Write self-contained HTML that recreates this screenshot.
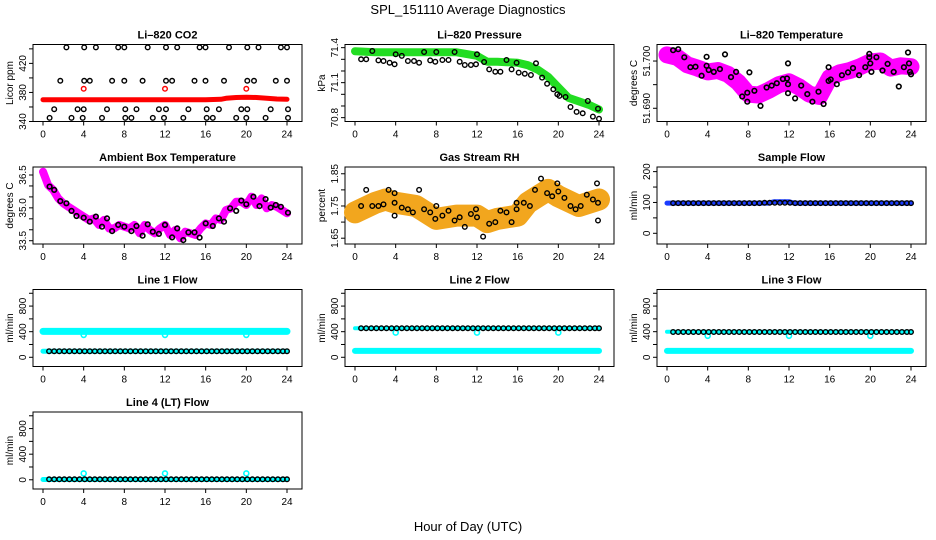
<!DOCTYPE html>
<html><head><meta charset="utf-8"><title>SPL_151110 Average Diagnostics</title>
<style>
html,body{margin:0;padding:0;background:#fff;}
svg{display:block;font-family:"Liberation Sans",Arial,sans-serif;}
</style></head>
<body>
<svg id="chart" width="936" height="540" viewBox="0 0 936 540" xmlns="http://www.w3.org/2000/svg">
<rect x="0" y="0" width="936" height="540" fill="#fff"/>
<text x="468" y="14" text-anchor="middle" font-size="13" fill="#000">SPL_151110  Average Diagnostics</text>
<text x="468" y="531" text-anchor="middle" font-size="13" fill="#000">Hour of Day (UTC)</text>
</svg>
<script>
// ---------- data ----------
const xTicks = [0,4,8,12,16,20,24];
// CO2
const co2BlackHours = [2.3,4.05,5.2,7.4,8.0,10.3,12.1,13.2,15.4,15.98,18.3,20.1,21.2,23.4,24,
  1.7,4.05,4.6,6.8,8.0,9.8,12.1,12.7,14.9,15.98,17.8,20.1,20.75,22.9,24,
  1.1,3.4,4.0,6.3,8.1,9.2,11.4,12.1,14.3,16.1,17.3,19.5,20.1,22.4,24.1,
  0.65,2.8,3.9,5.8,8.1,8.7,10.8,11.9,13.8,16.1,16.7,19,20,21.9,24.1];
const co2BlackVals = [442,442,442,442,442,442,442,442,442,442,442,442,442,442,442,
  396,396,396,396,396,396,396,396,396,396,396,396,396,396,396,
  357,357,357,357,357,357,357,357,357,357,357,357,357,357,357,
  345,345,345,345,345,345,345,345,345,345,345,345,345,345,345];
const co2RedHours = [0,4,8,12,16,17.5,18,19,20,21,22,23,24];
const co2RedVals = [370,370,370,370,370,370.5,372,373,373.5,373,372,371,370.5];
const co2RedDotHours = [4,12,20];
const co2RedDotVals = [385,385,385];
// Pressure
const presGreenHours = [0,2,4,6,8,10,12,13,14,16,17,18,19,20,21,22,23,24];
const presGreenVals = [71.37,71.36,71.36,71.36,71.36,71.36,71.33,71.28,71.28,71.27,71.25,71.21,71.15,71.06,70.97,70.94,70.91,70.87];
const presBlackHours = [0.6,1.1,1.7,2.3,2.8,3.4,3.9,4.0,4.6,5.2,5.8,6.3,6.8,7.4,7.9,8.0,8.6,9.2,9.8,10.3,10.8,11.4,11.9,12.0,12.7,13.2,13.8,14.3,14.9,15.4,15.9,16.1,16.7,17.3,17.8,18.4,18.9,19.5,19.9,20.1,20.7,21.2,21.8,22.4,22.9,23.4,23.9,24];
const presBlackVals = [71.30,71.30,71.371,71.291,71.286,71.271,71.257,71.343,71.329,71.286,71.286,71.271,71.363,71.291,71.28,71.363,71.294,71.294,71.363,71.28,71.251,71.251,71.257,71.343,71.277,71.214,71.194,71.194,71.294,71.214,71.271,71.186,71.177,71.166,71.266,71.143,71.091,71.043,71.0,70.986,70.977,70.891,70.849,70.837,70.943,70.809,70.877,70.791];
// Li-820 temperature
const tempCloudHours = [0,1,2,3,4,5,6,7,8,9,10,11,12,13,14,15,16,17,18,19,20,21,22,23,24];
const tempCloudVals = [51.7013,51.7008,51.6992,51.6985,51.6977,51.6980,51.6972,51.6955,51.6930,51.6928,51.6938,51.6950,51.6956,51.6945,51.6930,51.6925,51.6965,51.6975,51.6980,51.6988,51.6998,51.7000,51.6985,51.6990,51.6988];
const tempBlackHours = [0.6,1.1,1.7,2.3,2.8,3.4,3.9,3.9,4.1,4.6,5.2,5.7,6.3,6.8,7.4,7.9,7.9,8.1,8.6,9.2,9.8,10.3,10.8,11.4,11.8,11.9,11.9,11.9,12.6,13.2,13.8,14.3,14.9,15.4,15.9,15.9,16.1,16.7,17.2,17.8,18.3,18.9,19.5,19.9,19.9,20,20.1,20.6,21.2,21.7,22.3,22.8,23.3,23.7,23.8,23.9,24];
const tempBlackVals = [51.7023,51.7025,51.7008,51.6987,51.6988,51.6969,51.7009,51.6990,51.6981,51.6977,51.6983,51.7014,51.6966,51.6977,51.6925,51.6933,51.6914,51.6976,51.6937,51.6905,51.6944,51.6948,51.6953,51.6962,51.6963,51.6951,51.6932,51.6995,51.6921,51.6948,51.6930,51.6914,51.6935,51.6909,51.6958,51.6987,51.6961,51.6951,51.6970,51.6976,51.6985,51.6970,51.6987,51.7015,51.7008,51.6995,51.6977,51.7008,51.6980,51.6994,51.6977,51.6946,51.6987,51.7018,51.6995,51.6977,51.6972];
// Ambient box temperature
const ambBandHours = [0,0.5,1,1.5,2,2.5,3,3.5,4,4.5,5,5.5,6,6.5,7,7.5,8,8.5,9,9.5,10,10.5,11,11.5,12,12.5,13,13.5,14,14.5,15,15.5,16,16.5,17,17.5,18,18.5,19,19.5,20,20.5,21,21.5,22,22.5,23,23.5,24];
const ambBandVals = [36.65,36.04,35.82,35.43,35.21,35.05,34.90,34.75,34.60,34.45,34.52,34.22,34.45,34.06,34.06,34.22,34.14,34.06,34.22,33.84,34.22,33.99,33.84,34.06,34.22,33.76,33.99,33.61,33.91,33.84,33.76,34.06,34.29,34.22,34.52,34.45,34.90,34.98,35.28,35.28,35.13,35.51,35.13,35.43,34.98,35.13,35.05,34.90,34.75];
const ambBlackHours = [0.65,1.1,1.7,2.3,2.8,3.3,4.0,4.6,5.2,5.8,6.3,6.8,7.4,8,8.7,9.2,9.8,10.3,10.8,11.4,12,12.7,13.2,13.8,14.3,14.9,15.4,16,16.7,17.3,17.8,18.4,19,19.5,20,20.7,21.3,21.9,22.4,22.9,23.4,24.1];
const ambBlackVals = [35.97,35.82,35.31,35.21,34.86,34.63,34.55,34.37,34.60,34.14,34.52,33.94,34.22,34.14,33.94,34.17,33.73,34.25,33.91,33.81,34.22,33.65,34.06,33.53,33.88,33.88,33.64,34.29,34.17,34.52,34.37,34.98,34.86,35.33,35.16,35.51,35.08,35.40,35.01,35.13,35.05,34.78];
// Gas stream RH
const rhBandHours = [0,2,3,4,6,8,10,12,13,14,16,17,18,19,20,22,24];
const rhBandVals = [1.73,1.76,1.77,1.76,1.75,1.71,1.72,1.72,1.70,1.71,1.72,1.76,1.78,1.80,1.78,1.75,1.77];
const rhBlackHours = [0.6,1.1,1.7,2.3,2.8,3.3,3.9,3.9,3.9,4.6,5.2,5.7,6.3,6.8,7.4,7.9,8.0,8.6,9.2,9.8,10.3,10.8,11.4,11.9,12,12.6,13.2,13.8,14.3,14.9,15.4,15.9,15.9,16.6,17.2,17.7,18.3,18.9,19.4,19.9,20,20.6,21.2,21.7,22.2,22.8,23.4,23.8,23.9,23.9];
const rhBlackVals = [1.75,1.80,1.75,1.75,1.755,1.80,1.76,1.72,1.79,1.745,1.74,1.73,1.80,1.74,1.73,1.71,1.75,1.72,1.735,1.705,1.715,1.685,1.725,1.74,1.715,1.655,1.695,1.70,1.735,1.73,1.70,1.76,1.74,1.76,1.75,1.80,1.835,1.79,1.78,1.82,1.795,1.775,1.75,1.74,1.75,1.785,1.77,1.82,1.76,1.705];
// Flows
const flowHours = [0.6,1.1,1.6,2.1,2.6,3.1,3.6,4.1,4.6,5.1,5.6,6.1,6.6,7.1,7.6,8.1,8.6,9.1,9.6,10.1,10.6,11.1,11.6,12.1,12.6,13.1,13.6,14.1,14.6,15.1,15.6,16.1,16.6,17.1,17.6,18.1,18.6,19.1,19.6,20.1,20.6,21.1,21.6,22.1,22.6,23.1,23.6,24.0];
const sampleBlackVals = [98,98,98,98,98,98,98,98,98,98,98,98,98,98,98,98,98,98,99,99,99,99,99,99,98,98,98,98,98,98,98,98,98,98,98,98,98,98,98,98,98,98,98,98,98,98,98,98];
const sampleBlueHours = [0,10,10.5,12,12.5,24];
const sampleBlueVals = [98,98,102,102,98,98];
const line1BlackVals = [95,95,95,95,95,95,95,95,95,95,95,95,95,95,95,95,95,95,95,95,95,95,95,95,95,95,95,95,95,95,95,95,95,95,95,95,95,95,95,95,95,95,95,95,95,95,95,95];
const line1CyanHours = [0,24];
const line1CyanVals = [405,405];
const line1CyanLowVals = [95,95];
const line1DotHours = [4,12,20];
const line1DotVals = [350,350,350];
const line2BlackVals = [455,455,455,455,455,455,455,455,455,455,455,455,455,455,455,455,455,455,455,455,455,455,455,455,455,455,455,455,455,455,455,455,455,455,455,455,455,455,455,455,455,455,455,455,455,455,455,455];
const line2CyanHours = [0,24];
const line2CyanVals = [100,100];
const line2CyanTopVals = [455,455];
const line2DotHours = [4,12,20];
const line2DotVals = [385,385,385];
const line3BlackVals = [395,395,395,395,395,395,395,395,395,395,395,395,395,395,395,395,395,395,395,395,395,395,395,395,395,395,395,395,395,395,395,395,395,395,395,395,395,395,395,395,395,395,395,395,395,395,395,395];
const line3CyanHours = [0,24];
const line3CyanVals = [100,100];
const line3CyanTopVals = [400,400];
const line3DotHours = [4,12,20];
const line3DotVals = [335,335,335];
const line4BlackVals = [8,8,8,8,8,8,8,8,8,8,8,8,8,8,8,8,8,8,8,8,8,8,8,8,8,8,8,8,8,8,8,8,8,8,8,8,8,8,8,8,8,8,8,8,8,8,8,8];
const line4CyanHours = [0,24];
const line4CyanVals = [5,5];
const line4DotHours = [4,12,20];
const line4DotVals = [100,100,100];

// ---------- drawing ----------
const NS = "http://www.w3.org/2000/svg";
const svg = document.getElementById("chart");
const COLS = [33,345,657], ROWS = [44.5,167,289.5,412], PW = 269, PH = 77;

function el(tag, attrs, parent){
  const e = document.createElementNS(NS, tag);
  for (const k in attrs) e.setAttribute(k, attrs[k]);
  parent.appendChild(e);
  return e;
}

function makePanel(name, col, row, title, ylab, ymin, ymax, yTicks, yLabels){
  const left = COLS[col], top = ROWS[row];
  const g = el("g", {}, svg);
  
  
  const xs = h => left + 10 + h * (244/24);
  const ys = v => top + PH - (v - ymin) / (ymax - ymin) * PH;
  const box = el("rect", {x:left, y:top, width:PW, height:PH, fill:"none", stroke:"#000", "stroke-width":1}, g);
  
  
  const t = el("text", {x:left+PW/2, y:top-6, "text-anchor":"middle", "font-size":11, "font-weight":"bold"}, g);
  t.textContent = title;
  
  
  const xa = el("g", {}, g);
  
  
  el("line", {x1:xs(0), x2:xs(24), y1:top+PH, y2:top+PH, stroke:"#000"}, xa);
  xTicks.forEach(h => {
    el("line", {x1:xs(h), x2:xs(h), y1:top+PH, y2:top+PH+4, stroke:"#000"}, xa);
    const tl = el("text", {x:xs(h), y:top+PH+16, "text-anchor":"middle", "font-size":10}, xa);
    tl.textContent = h;
    
    
  });
  const ya = el("g", {}, g);
  
  
  yTicks.forEach(v => {
    el("line", {x1:left-4, x2:left, y1:ys(v), y2:ys(v), stroke:"#000"}, ya);
  });
  yLabels.forEach(v => {
    const yl = el("text", {x:0, y:0, "text-anchor":"middle", "font-size":10, transform:`translate(${left-7},${ys(v)}) rotate(-90)`}, ya);
    yl.textContent = v;
    
    
  });
  const at = el("text", {x:0, y:0, "text-anchor":"middle", "font-size":10, transform:`translate(${left-20},${top+PH/2}) rotate(-90)`}, g);
  at.textContent = ylab;
  
  
  const clip = el("g", {}, g);
  return {g:clip, xs, ys};
}

function band(p, name, hours, vals, color, w){
  const pts = hours.map((h,i) => p.xs(h).toFixed(1) + "," + p.ys(vals[i]).toFixed(1)).join(" ");
  const pl = el("polyline", {points:pts, fill:"none", stroke:color, "stroke-width":w, "stroke-linejoin":"round", "stroke-linecap":"round"}, p.g);
  
  
}
function dots(p, name, hours, vals, color, r, sw){
  const grp = el("g", {}, p.g);
  
  
  hours.forEach((h,i) => {
    const c = el("circle", {cx:p.xs(h).toFixed(1), cy:p.ys(vals[i]).toFixed(1), r:r, fill:"none", stroke:color, "stroke-width":sw}, grp);
    
    
  });
}

// Li-820 CO2
let p = makePanel("co2", 0, 0, "Li\u2013820 CO2", "Licor ppm", 340, 446, [340,360,380,400,420,440], [340,380,420]);
band(p, "co2-red-series", co2RedHours, co2RedVals, "#ff0000", 5);
dots(p, "co2-red-dots", co2RedDotHours, co2RedDotVals, "#ff0000", 2.3, 1.4);
dots(p, "co2-black-points", co2BlackHours, co2BlackVals, "#000", 2.3, 1.4);

// Pressure
p = makePanel("pressure", 1, 0, "Li\u2013820 Pressure", "kPa", 70.767, 71.427, [70.8,70.9,71.0,71.1,71.2,71.3,71.4], [70.8,71.1,71.4]);
band(p, "pressure-green-series", presGreenHours, presGreenVals, "#22dd22", 8);
dots(p, "pressure-black-points", presBlackHours, presBlackVals, "#000", 2.3, 1.4);

// Li-820 Temperature
p = makePanel("li820-temp", 2, 0, "Li\u2013820 Temperature", "degrees C", 51.6872, 51.7035, [51.690,51.695,51.700], ["51.690","51.700"]);
band(p, "li820-temp-magenta-cloud", tempCloudHours, tempCloudVals, "#ff00ff", 17);
dots(p, "li820-temp-black-points", tempBlackHours, tempBlackVals, "#000", 2.3, 1.6);

// Ambient Box Temperature
p = makePanel("ambient-temp", 0, 1, "Ambient Box Temperature", "degrees C", 33.35, 36.865, [33.5,34.0,34.5,35.0,35.5,36.0,36.5], ["33.5","35.0","36.5"]);
band(p, "ambient-magenta-series", ambBandHours, ambBandVals, "#ff00ff", 8);
dots(p, "ambient-black-points", ambBlackHours, ambBlackVals, "#000", 2.3, 1.6);

// Gas Stream RH
p = makePanel("rh", 1, 1, "Gas Stream RH", "percent", 1.632, 1.871, [1.65,1.70,1.75,1.80,1.85], ["1.65","1.75","1.85"]);
band(p, "rh-orange-cloud", rhBandHours, rhBandVals, "#f2a61e", 22);
dots(p, "rh-black-points", rhBlackHours, rhBlackVals, "#000", 2.3, 1.4);

// Sample Flow
p = makePanel("sample-flow", 2, 1, "Sample Flow", "ml/min", -34.7, 215, [0,50,100,150,200], [0,100,200]);
band(p, "sample-flow-blue-series", sampleBlueHours, sampleBlueVals, "#1a3cff", 5);
dots(p, "sample-flow-black-points", flowHours, sampleBlackVals, "#000", 2.3, 1.4);

const flowTicks = [0,200,400,600,800,1000], flowLabels = [0,400,800];
// Line 1
p = makePanel("line1-flow", 0, 2, "Line 1 Flow", "ml/min", -144, 1059, flowTicks, flowLabels);
band(p, "line1-cyan-high", line1CyanHours, line1CyanVals, "#00ffff", 7);
band(p, "line1-cyan-low", line1CyanHours, line1CyanLowVals, "#00ffff", 5);
dots(p, "line1-cyan-dots", line1DotHours, line1DotVals, "#00ffff", 2.5, 1.6);
dots(p, "line1-black-points", flowHours, line1BlackVals, "#000", 2.3, 1.4);
// Line 2
p = makePanel("line2-flow", 1, 2, "Line 2 Flow", "ml/min", -144, 1059, flowTicks, flowLabels);
band(p, "line2-cyan-low", line2CyanHours, line2CyanVals, "#00ffff", 6);
band(p, "line2-cyan-high", line2CyanHours, line2CyanTopVals, "#00ffff", 4);
dots(p, "line2-cyan-dots", line2DotHours, line2DotVals, "#00ffff", 2.5, 1.6);
dots(p, "line2-black-points", flowHours, line2BlackVals, "#000", 2.3, 1.4);
// Line 3
p = makePanel("line3-flow", 2, 2, "Line 3 Flow", "ml/min", -144, 1059, flowTicks, flowLabels);
band(p, "line3-cyan-low", line3CyanHours, line3CyanVals, "#00ffff", 6);
band(p, "line3-cyan-high", line3CyanHours, line3CyanTopVals, "#00ffff", 4);
dots(p, "line3-cyan-dots", line3DotHours, line3DotVals, "#00ffff", 2.5, 1.6);
dots(p, "line3-black-points", flowHours, line3BlackVals, "#000", 2.3, 1.4);
// Line 4
p = makePanel("line4-flow", 0, 3, "Line 4 (LT) Flow", "ml/min", -144, 1059, flowTicks, flowLabels);
band(p, "line4-cyan-series", line4CyanHours, line4CyanVals, "#00ffff", 5);
dots(p, "line4-cyan-dots", line4DotHours, line4DotVals, "#00ffff", 2.5, 1.6);
dots(p, "line4-black-points", flowHours, line4BlackVals, "#000", 2.3, 1.4);
</script>
</body></html>
